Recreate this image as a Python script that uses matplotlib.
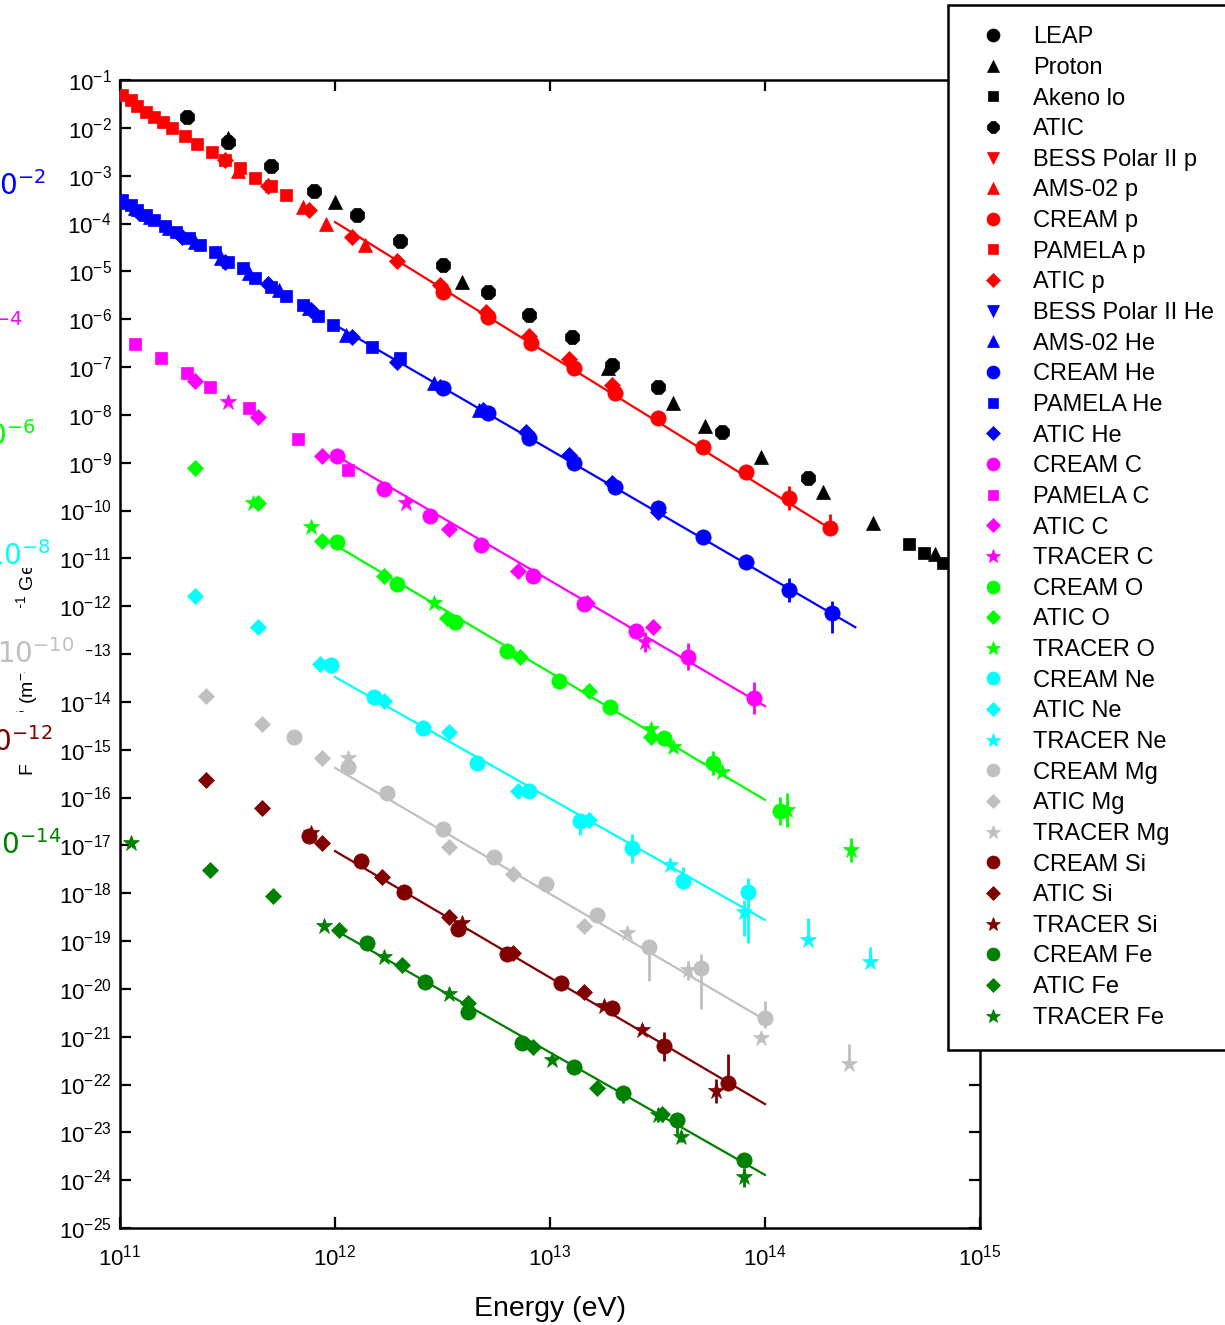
import numpy as np
import matplotlib
matplotlib.use("Agg")
import matplotlib.pyplot as plt
from matplotlib.patches import Rectangle
from matplotlib.ticker import FixedLocator, NullLocator, FuncFormatter

plt.rcParams["font.family"] = ["Liberation Sans", "DejaVu Sans"]
plt.rcParams["mathtext.fontset"] = "custom"
plt.rcParams["mathtext.rm"] = "Liberation Sans"
plt.rcParams["mathtext.it"] = "Liberation Sans:italic"

# ---- data: log10(E / eV) and log10(flux) ----
leap_lgE, leap_lgF = [], []
proton_lgE = [11.50, 12.00, 12.59, 13.27, 13.57, 13.72, 13.98, 14.27, 14.50, 14.79]
proton_lgF = [-2.21, -3.55, -5.22, -7.02, -7.75, -8.23, -8.88, -9.61, -10.26, -10.91]
akeno_lgE = [14.67, 14.74, 14.83]
akeno_lgF = [-10.70, -10.89, -11.10]
atic_lgE = [11.31, 11.50, 11.70, 11.90, 12.10, 12.30, 12.50, 12.71, 12.90, 13.10, 13.29, 13.50, 13.80, 14.20]
atic_lgF = [-1.77, -2.30, -2.80, -3.32, -3.82, -4.37, -4.87, -5.43, -5.91, -6.37, -6.96, -7.42, -8.36, -9.32]

bess_p_lgE, bess_p_lgF = [], []
ams_p_lgE = [11.55, 11.85, 11.96, 12.14]
ams_p_lgF = [-2.90, -3.66, -4.01, -4.45]
cream_p_lgE = [12.50, 12.71, 12.91, 13.11, 13.30, 13.50, 13.71, 13.91, 14.11, 14.30]
cream_p_lgF = [-5.43, -5.96, -6.50, -7.02, -7.54, -8.07, -8.67, -9.20, -9.74, -10.37]
cream_p_dlo = [0, 0, 0, 0, 0, 0, 0, 0.15, 0.25, 0.05]
cream_p_dhi = [0, 0, 0, 0, 0, 0, 0, 0.15, 0.25, 0.30]
pamela_p_lgE = [11.01, 11.05, 11.08, 11.12, 11.16, 11.20, 11.24, 11.30, 11.36, 11.43, 11.49, 11.56, 11.63, 11.70, 11.77]
pamela_p_lgF = [-1.31, -1.42, -1.54, -1.67, -1.77, -1.88, -2.00, -2.17, -2.34, -2.51, -2.67, -2.84, -3.05, -3.22, -3.40]
atic_p_lgE = [11.49, 11.69, 11.88, 12.08, 12.29, 12.49, 12.70, 12.90, 13.09, 13.29]
atic_p_lgF = [-2.67, -3.22, -3.72, -4.28, -4.78, -5.29, -5.85, -6.35, -6.83, -7.38]

bess_he_lgE, bess_he_lgF = [], []
ams_he_lgE = [11.02, 11.07, 11.14, 11.23, 11.35, 11.47, 11.60, 11.74, 11.88, 12.05, 12.46, 12.67]
ams_he_lgF = [-3.55, -3.68, -3.86, -4.09, -4.39, -4.72, -5.04, -5.39, -5.77, -6.33, -7.34, -7.90]
cream_he_lgE = [12.50, 12.71, 12.90, 13.11, 13.30, 13.50, 13.71, 13.91, 14.11, 14.31]
cream_he_lgF = [-7.44, -7.96, -8.49, -9.01, -9.51, -9.95, -10.56, -11.08, -11.66, -12.14]
cream_he_dlo = [0, 0, 0, 0, 0, 0, 0, 0, 0.25, 0.42]
cream_he_dhi = [0, 0, 0, 0, 0, 0, 0, 0, 0.25, 0.25]
pamela_he_lgE = [11.01, 11.05, 11.08, 11.12, 11.16, 11.21, 11.26, 11.32, 11.37, 11.44,
                 11.50, 11.57, 11.63, 11.70, 11.77, 11.85, 11.92, 11.99, 12.17, 12.30]
pamela_he_lgF = [-3.51, -3.61, -3.72, -3.82, -3.93, -4.05, -4.18, -4.30, -4.45, -4.60,
                 -4.81, -4.93, -5.14, -5.33, -5.52, -5.70, -5.93, -6.12, -6.58, -6.81]
atic_he_lgE = [11.09, 11.29, 11.49, 11.69, 11.89, 12.08, 12.29, 12.49, 12.69, 12.89, 13.09, 13.29, 13.50]
atic_he_lgF = [-3.78, -4.28, -4.81, -5.27, -5.81, -6.37, -6.90, -7.42, -7.90, -8.36, -8.84, -9.43, -10.03]

cream_c_lgE = [12.01, 12.23, 12.44, 12.68, 12.92, 13.16, 13.40, 13.64, 13.95]
cream_c_lgF = [-8.86, -9.55, -10.12, -10.72, -11.37, -11.96, -12.52, -13.06, -13.92]
cream_c_dlo = [0, 0, 0, 0, 0, 0, 0, 0.28, 0.33]
cream_c_dhi = [0, 0, 0, 0, 0, 0, 0, 0.28, 0.33]
pamela_c_lgE = [11.07, 11.19, 11.31, 11.42, 11.60, 11.83, 12.06]
pamela_c_lgF = [-6.52, -6.81, -7.13, -7.42, -7.86, -8.51, -9.15]
atic_c_lgE = [11.35, 11.64, 11.94, 12.53, 12.85, 13.17, 13.48]
atic_c_lgF = [-7.29, -8.05, -8.86, -10.39, -11.27, -11.93, -12.44]
tracer_c_lgE = [11.50, 12.33, 13.44]
tracer_c_lgF = [-7.73, -9.84, -12.75]
tracer_c_dlo = [0, 0, 0.2]
tracer_c_dhi = [0, 0, 0.2]

cream_o_lgE = [12.01, 12.29, 12.56, 12.80, 13.04, 13.28, 13.53, 13.76, 14.07]
cream_o_lgF = [-10.66, -11.54, -12.33, -12.94, -13.57, -14.11, -14.76, -15.28, -16.28]
cream_o_dlo = [0, 0, 0, 0, 0, 0, 0.15, 0.25, 0.30]
cream_o_dhi = [0, 0, 0, 0, 0, 0, 0.15, 0.25, 0.30]
atic_o_lgE = [11.35, 11.64, 11.94, 12.23, 12.52, 12.86, 13.18, 13.47]
atic_o_lgF = [-9.11, -9.84, -10.64, -11.37, -12.25, -13.06, -13.77, -14.74]
tracer_o_lgE = [11.62, 11.89, 12.46, 13.47, 13.57, 13.80, 14.10, 14.40]
tracer_o_lgF = [-9.84, -10.35, -11.93, -14.57, -14.95, -15.47, -16.26, -17.10]
tracer_o_dlo = [0, 0, 0, 0, 0, 0, 0.35, 0.25]
tracer_o_dhi = [0, 0, 0, 0, 0, 0, 0.35, 0.25]

cream_ne_lgE = [11.98, 12.18, 12.41, 12.66, 12.90, 13.14, 13.38, 13.62, 13.92]
cream_ne_lgF = [-13.23, -13.90, -14.55, -15.28, -15.87, -16.49, -17.06, -17.75, -17.98]
cream_ne_dlo = [0, 0, 0, 0, 0, 0.30, 0.30, 0, 1.07]
cream_ne_dhi = [0, 0, 0, 0, 0, 0, 0.30, 0.30, 0.29]
atic_ne_lgE = [11.35, 11.64, 11.93, 12.23, 12.53, 12.85, 13.18]
atic_ne_lgF = [-11.79, -12.44, -13.21, -13.98, -14.63, -15.87, -16.47]
tracer_ne_lgE = [13.56, 13.90, 14.20, 14.49]
tracer_ne_lgF = [-17.41, -18.40, -18.98, -19.44]
tracer_ne_dlo = [0, 0.50, 0, 0]
tracer_ne_dhi = [0, 0.25, 0.46, 0.31]

cream_mg_lgE = [11.81, 12.06, 12.24, 12.50, 12.74, 12.98, 13.22, 13.46, 13.70, 14.00]
cream_mg_lgF = [-14.74, -15.36, -15.91, -16.66, -17.25, -17.81, -18.46, -19.13, -19.57, -20.61]
cream_mg_dlo = [0, 0, 0, 0, 0, 0, 0, 0.70, 0.85, 0.20]
cream_mg_dhi = [0, 0, 0, 0, 0, 0, 0, 0.15, 0.30, 0.35]
atic_mg_lgE = [11.40, 11.66, 11.94, 12.53, 12.83, 13.16]
atic_mg_lgF = [-13.88, -14.46, -15.18, -17.04, -17.60, -18.69]
tracer_mg_lgE = [12.06, 13.36, 13.64, 13.98, 14.39]
tracer_mg_lgF = [-15.18, -18.83, -19.61, -21.03, -21.57]
tracer_mg_dlo = [0, 0, 0.2, 0, 0]
tracer_mg_dhi = [0, 0, 0.2, 0, 0.42]

cream_si_lgE = [11.88, 12.12, 12.32, 12.57, 12.80, 13.05, 13.29, 13.53, 13.83]
cream_si_lgF = [-16.81, -17.33, -17.98, -18.75, -19.27, -19.88, -20.40, -21.20, -21.97]
cream_si_dlo = [0, 0, 0, 0, 0, 0, 0, 0.30, 0]
cream_si_dhi = [0, 0, 0, 0, 0, 0, 0, 0.30, 0.60]
atic_si_lgE = [11.40, 11.66, 11.94, 12.22, 12.53, 12.83, 13.16]
atic_si_lgF = [-15.64, -16.22, -16.95, -17.66, -18.50, -19.25, -20.07]
tracer_si_lgE = [11.89, 12.59, 13.25, 13.43, 13.77]
tracer_si_lgF = [-16.74, -18.63, -20.36, -20.86, -22.14]
tracer_si_dlo = [0, 0, 0, 0, 0.25]
tracer_si_dhi = [0, 0, 0, 0, 0.25]

cream_fe_lgE = [12.15, 12.42, 12.62, 12.87, 13.11, 13.34, 13.59, 13.90]
cream_fe_lgF = [-19.04, -19.86, -20.49, -21.13, -21.64, -22.18, -22.74, -23.58]
cream_fe_dlo = [0, 0, 0, 0, 0, 0.20, 0.30, 0]
cream_fe_dhi = [0, 0, 0, 0, 0, 0, 0, 0.10]
atic_fe_lgE = [11.42, 11.71, 12.02, 12.31, 12.62, 12.92, 13.22, 13.52]
atic_fe_lgF = [-17.52, -18.06, -18.77, -19.50, -20.30, -21.22, -22.08, -22.62]
tracer_fe_lgE = [11.05, 11.95, 12.23, 12.53, 13.01, 13.50, 13.61, 13.90]
tracer_fe_lgF = [-16.95, -18.69, -19.34, -20.11, -21.49, -22.64, -23.10, -23.94]
tracer_fe_dlo = [0, 0, 0, 0, 0, 0.15, 0.10, 0.20]
tracer_fe_dhi = [0, 0, 0, 0, 0, 0.15, 0.10, 0.20]

# power-law fits (log10 end points)
fit_colors = ["#ff0000", "#0000ff", "#ff00ff", "#00ff00", "#00ffff", "#c0c0c0", "#800000", "#008000"]
fit_lgE_lo = [12.0, 12.0, 12.0, 12.0, 12.0, 12.0, 12.0, 12.0]
fit_lgE_hi = [14.30, 14.42, 14.0, 14.0, 14.0, 14.0, 14.0, 14.0]
fit_lgF_lo = [-3.97, -6.12, -8.84, -10.72, -13.48, -15.38, -17.12, -18.77]
fit_lgF_hi = [-10.37, -12.44, -14.09, -16.05, -18.56, -20.65, -22.41, -23.89]

# scale factors applied to He ... Fe
scale_text = ["10$^{-2}$", "10$^{-4}$", "10$^{-6}$", "10$^{-8}$", "10$^{-10}$", "10$^{-12}$", "10$^{-14}$"]
scale_colors = ["#0000ff", "#ff00ff", "#00ff00", "#00ffff", "#c0c0c0", "#800000", "#008000"]

BLK, RED, BLU = "#000000", "#ff0000", "#0000ff"
MAG, GRN, CYN = "#ff00ff", "#00ff00", "#00ffff"
GRY, DRD, DGN = "#c0c0c0", "#800000", "#008000"

series = [
    ("LEAP", leap_lgE, leap_lgF, BLK, "o", None, None),
    ("Proton", proton_lgE, proton_lgF, BLK, "^", None, None),
    ("Akeno lo", akeno_lgE, akeno_lgF, BLK, "s", None, None),
    ("ATIC", atic_lgE, atic_lgF, BLK, "8", None, None),
    ("BESS Polar II p", bess_p_lgE, bess_p_lgF, RED, "v", None, None),
    ("AMS-02 p", ams_p_lgE, ams_p_lgF, RED, "^", None, None),
    ("CREAM p", cream_p_lgE, cream_p_lgF, RED, "o", cream_p_dlo, cream_p_dhi),
    ("PAMELA p", pamela_p_lgE, pamela_p_lgF, RED, "s", None, None),
    ("ATIC p", atic_p_lgE, atic_p_lgF, RED, "D", None, None),
    ("BESS Polar II He", bess_he_lgE, bess_he_lgF, BLU, "v", None, None),
    ("AMS-02 He", ams_he_lgE, ams_he_lgF, BLU, "^", None, None),
    ("CREAM He", cream_he_lgE, cream_he_lgF, BLU, "o", cream_he_dlo, cream_he_dhi),
    ("PAMELA He", pamela_he_lgE, pamela_he_lgF, BLU, "s", None, None),
    ("ATIC He", atic_he_lgE, atic_he_lgF, BLU, "D", None, None),
    ("CREAM C", cream_c_lgE, cream_c_lgF, MAG, "o", cream_c_dlo, cream_c_dhi),
    ("PAMELA C", pamela_c_lgE, pamela_c_lgF, MAG, "s", None, None),
    ("ATIC C", atic_c_lgE, atic_c_lgF, MAG, "D", None, None),
    ("TRACER C", tracer_c_lgE, tracer_c_lgF, MAG, "*", tracer_c_dlo, tracer_c_dhi),
    ("CREAM O", cream_o_lgE, cream_o_lgF, GRN, "o", cream_o_dlo, cream_o_dhi),
    ("ATIC O", atic_o_lgE, atic_o_lgF, GRN, "D", None, None),
    ("TRACER O", tracer_o_lgE, tracer_o_lgF, GRN, "*", tracer_o_dlo, tracer_o_dhi),
    ("CREAM Ne", cream_ne_lgE, cream_ne_lgF, CYN, "o", cream_ne_dlo, cream_ne_dhi),
    ("ATIC Ne", atic_ne_lgE, atic_ne_lgF, CYN, "D", None, None),
    ("TRACER Ne", tracer_ne_lgE, tracer_ne_lgF, CYN, "*", tracer_ne_dlo, tracer_ne_dhi),
    ("CREAM Mg", cream_mg_lgE, cream_mg_lgF, GRY, "o", cream_mg_dlo, cream_mg_dhi),
    ("ATIC Mg", atic_mg_lgE, atic_mg_lgF, GRY, "D", None, None),
    ("TRACER Mg", tracer_mg_lgE, tracer_mg_lgF, GRY, "*", tracer_mg_dlo, tracer_mg_dhi),
    ("CREAM Si", cream_si_lgE, cream_si_lgF, DRD, "o", cream_si_dlo, cream_si_dhi),
    ("ATIC Si", atic_si_lgE, atic_si_lgF, DRD, "D", None, None),
    ("TRACER Si", tracer_si_lgE, tracer_si_lgF, DRD, "*", tracer_si_dlo, tracer_si_dhi),
    ("CREAM Fe", cream_fe_lgE, cream_fe_lgF, DGN, "o", cream_fe_dlo, cream_fe_dhi),
    ("ATIC Fe", atic_fe_lgE, atic_fe_lgF, DGN, "D", None, None),
    ("TRACER Fe", tracer_fe_lgE, tracer_fe_lgF, DGN, "*", tracer_fe_dlo, tracer_fe_dhi),
]

msize = {"o": 11, "8": 11, "s": 8.5, "D": 8.5, "^": 10, "v": 10, "*": 12}

W, H = 1225, 1325
fig = plt.figure(figsize=(W / 100, H / 100), dpi=100)
ax = fig.add_axes([120 / W, 1 - 1228 / H, 860 / W, 1148 / H])
ax.set_xscale("log")
ax.set_yscale("log")
ax.set_xlim(1e11, 1e15)
ax.set_ylim(1e-25, 1e-1)

# fitted lines under the points
for c, e0, e1, f0, f1 in zip(fit_colors, fit_lgE_lo, fit_lgE_hi, fit_lgF_lo, fit_lgF_hi):
    ax.plot(10.0 ** np.array([e0, e1]), 10.0 ** np.array([f0, f1]), color=c, lw=1.6, zorder=2)

handles = []
for label, lgE, lgF, color, mk, dlo, dhi in series:
    E = 10.0 ** np.array(lgE, dtype=float)
    F = 10.0 ** np.array(lgF, dtype=float)
    if dlo is not None and len(E):
        lo = 10.0 ** (np.array(lgF) - np.array(dlo))
        hi = 10.0 ** (np.array(lgF) + np.array(dhi))
        ax.vlines(E, lo, hi, colors=color, lw=2, zorder=3)
    h, = ax.plot(E, F, ls="none", marker=mk, ms=msize[mk], color=color,
                 mec=color, mew=0.5, label=label, zorder=4)
    handles.append(h)

# axes styling
ax.xaxis.set_major_locator(FixedLocator(10.0 ** np.arange(11, 16)))
ax.yaxis.set_major_locator(FixedLocator(10.0 ** np.arange(-25, 0)))
ax.xaxis.set_minor_locator(NullLocator())
ax.yaxis.set_minor_locator(NullLocator())
fmt = FuncFormatter(lambda v, p: r"10$^{\mathregular{%d}}$" % int(round(np.log10(v))))
ax.xaxis.set_major_formatter(fmt)
ax.yaxis.set_major_formatter(fmt)
ax.tick_params(which="major", direction="in", length=8, width=1.6,
               top=True, right=True, labelsize=16, pad=6)
ax.tick_params(axis="x", pad=12)
for sp in ax.spines.values():
    sp.set_linewidth(1.8)
ax.set_xlabel("Energy (eV)", fontsize=20.5, labelpad=18)

# y-axis title, partly hidden behind the scale-factor labels
fig.text(27 / W, 1 - 776 / H, "F \u00d7 E$^{2.6}$ (m$^{-2}$ s$^{-1}$ sr$^{-1}$ GeV$^{1.6}$)",
         rotation=90, fontsize=14, ha="center", va="bottom", zorder=1)

# white backing boxes of the scale labels (x1, y_top, y_bottom in pixels)
box_x1 = [50, 30, 40, 50, 86, 45, 52, 60]
box_top = [168, 305, 415, 518, 630, 608, 712, 822]
box_bot = [200, 335, 448, 568, 672, 672, 758, 856]
for x1, yt, yb in zip(box_x1, box_top, box_bot):
    fig.patches.append(Rectangle((0, 1 - yb / H), x1 / W, (yb - yt) / H,
                                 transform=fig.transFigure, facecolor="white",
                                 edgecolor="none", zorder=5))

scale_x = [-18, -42, -29, -14, -3, -24, -16]
scale_y = [186, 328, 436, 556, 654, 742, 845]
for t, c, x, y in zip(scale_text, scale_colors, scale_x, scale_y):
    fig.text(x / W, 1 - y / H, t, color=c, fontsize=20, ha="left", va="center",
             family="DejaVu Sans", math_fontfamily="dejavusans", zorder=6)

leg = fig.legend(handles=handles, loc="upper left", bbox_to_anchor=(948 / W, 1 - 5 / H),
                 frameon=True, fancybox=False, edgecolor="black", framealpha=1,
                 fontsize=17, borderaxespad=0, borderpad=0.9, handletextpad=0.7,
                 labelspacing=0.366, markerscale=0.85, numpoints=1)
leg.get_frame().set_linewidth(1.8)

fig.savefig("out.png", dpi=100)
